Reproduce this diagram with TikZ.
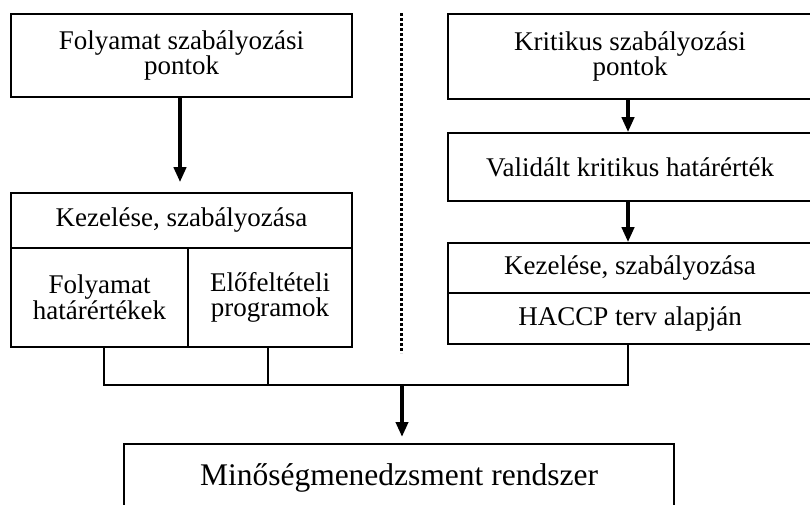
\documentclass[tikz,border=0pt]{standalone}
\usepackage{fontspec}
\setmainfont{Liberation Serif}
\usetikzlibrary{arrows.meta}
\begin{document}
\begin{tikzpicture}[x=1pt,y=-1pt,
  box/.style={draw, line width=1.6pt, inner sep=0pt, align=center,
              font=\fontsize{27}{25.5}\selectfont},
  flow/.style={line width=4.5pt, -{Triangle[width=12pt,length=15pt]}},
  link/.style={line width=1.4pt},
  sep/.style={line width=3pt, dash pattern=on 3pt off 2pt}]
\useasboundingbox (0,0) rectangle (810,504);
\clip (0,0) rectangle (810,504);
% left column
\node[box, minimum width=341pt, minimum height=83pt] (l1) at (181.5,55.5) {Folyamat szabályozási\\pontok};
\node[box, minimum width=341pt, minimum height=55pt] (l2h) at (181.5,220.5) {Kezelése, szabályozása};
\node[box, minimum width=177pt, minimum height=99pt] (l2a) at (99.5,297.5) {Folyamat\\határértékek};
\node[box, minimum width=164pt, minimum height=99pt] (l2b) at (270,297.5) {Előfeltételi\\programok};
% right column
\node[box, minimum width=364pt, minimum height=85pt] (r1) at (630,56.5) {Kritikus szabályozási\\pontok};
\node[box, minimum width=364pt, minimum height=68pt] (r2) at (630,167) {Validált kritikus határérték};
\node[box, minimum width=364pt, minimum height=50pt] (r3a) at (630,268) {Kezelése, szabályozása};
\node[box, minimum width=364pt, minimum height=51pt] (r3b) at (630,318.5) {HACCP terv alapján};
% bottom
\node[draw, line width=1.6pt, anchor=north, minimum width=550pt, inner xsep=0pt,
      inner ysep=22pt, text height=20pt, text depth=7pt,
      font=\fontsize{31.5}{31.5}\selectfont] (bot) at (399,443) {Minőségmenedzsment rendszer};
% separator
\coordinate (d1) at (401,13);
\coordinate (d2) at (401,353);
\draw[sep] (d1) -- (d2);
% arrows
\draw[flow, shorten >=10pt] ([xshift=-1.5pt]l1.south) -- ([xshift=-1.5pt]l2h.north);
\draw[flow] ([xshift=-2pt]r1.south) -- ([xshift=-2pt]r2.north);
\draw[flow] ([xshift=-2pt]r2.south) -- ([xshift=-2pt]r3a.north);
% joining lines
\coordinate (j) at (402,385);
\coordinate (ja) at ([xshift=4.5pt]l2a.south);
\coordinate (jb) at ([xshift=-2pt]l2b.south);
\coordinate (jc) at ([xshift=-2pt]r3b.south);
\draw[link] (ja) -- (ja |- j) -- (jc |- j) -- (jc);
\draw[link] (jb) -- (jb |- j);
\draw[flow, shorten >=6pt] (j) -- (j |- bot.north);
\end{tikzpicture}
\end{document}
